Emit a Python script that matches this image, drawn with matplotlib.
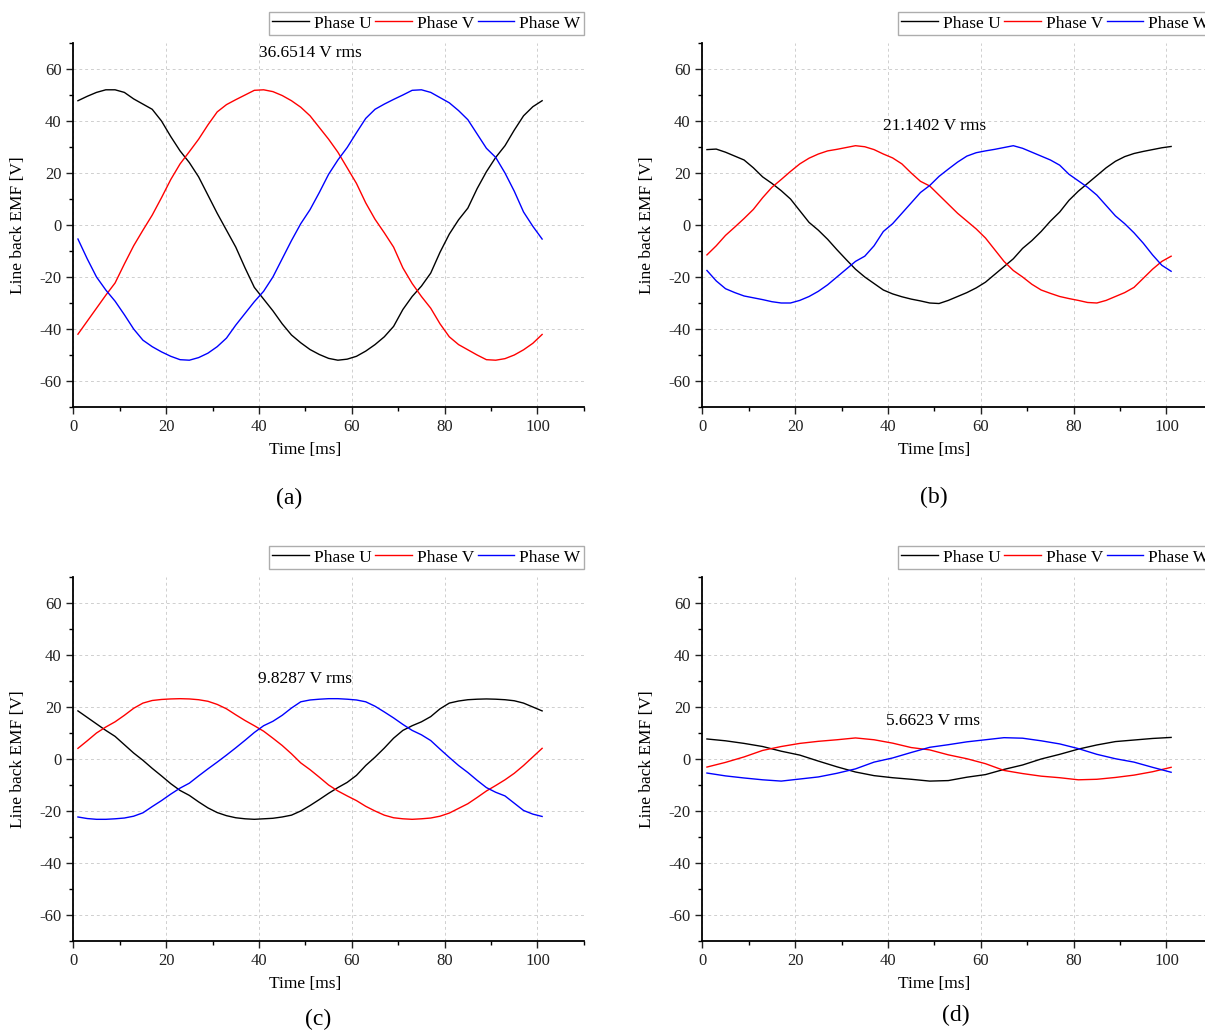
import matplotlib
matplotlib.use('Agg')
import matplotlib.pyplot as plt
from matplotlib.ticker import MultipleLocator

plt.rcParams['font.family'] = ['Liberation Serif', 'DejaVu Serif']
plt.rcParams['axes.unicode_minus'] = False

# time samples [ms]: 2 ms steps for (a)-(c), 4 ms steps for (d)
time_fine = list(range(1, 102, 2))
time_coarse = list(range(1, 102, 4))

# (a) 36.6514 V rms
a_u = [47.8, 49.5, 51.0, 52.0, 52.0, 51.0, 48.5, 46.5, 44.5, 40.0, 34.0, 28.5, 24.0,
       18.5, 11.5, 4.5, -2.0, -8.5, -16.5, -24.0, -28.5, -33.0, -38.0, -42.3, -45.3, -47.9,
       -49.8, -51.3, -52.0, -51.6, -50.5, -48.5, -46.0, -43.0, -39.0, -32.5, -27.5, -23.5,
       -18.5, -10.5, -3.5, 2.0, 6.5, 14.0, 20.5, 26.0, 30.5, 36.5, 42.0, 45.5, 47.8]
a_v = [-42.0, -37.0, -32.0, -27.0, -22.3, -15.0, -8.0, -2.0, 3.8, 10.5, 17.5, 23.5, 28.2,
       33.0, 38.5, 43.5, 46.3, 48.2, 50.0, 51.8, 52.0, 51.3, 49.8, 47.8, 45.3, 42.0,
       37.5, 33.0, 28.0, 22.0, 16.0, 8.5, 2.2, -3.0, -8.5, -16.5, -22.5, -27.5,
       -32.0, -38.0, -43.0, -46.0, -48.0, -50.0, -51.8, -52.0, -51.4, -50.0, -48.0, -45.5, -42.1]
a_w = [-5.4, -13.0, -20.0, -25.0, -29.3, -34.5, -40.0, -44.3, -46.8, -48.8, -50.5, -51.8, -52.0,
       -51.0, -49.3, -46.8, -43.5, -38.5, -34.0, -29.5, -25.5, -20.0, -13.0, -6.0, 0.5, 5.9,
       12.5, 19.5, 25.0, 29.8, 35.5, 41.0, 44.5, 46.5, 48.3, 50.0, 51.8, 52.0,
       51.0, 49.0, 47.0, 44.0, 40.5, 35.0, 29.5, 26.0, 20.0, 13.0, 5.0, -0.5, -5.4]

# (b) 21.1402 V rms
b_u = [29.0, 29.2, 28.0, 26.5, 25.0, 22.0, 18.5, 16.0, 13.2, 10.0, 5.5, 1.0, -2.0,
       -5.5, -9.5, -13.3, -17.0, -20.0, -22.5, -25.0, -26.5, -27.6, -28.5, -29.2, -30.0, -30.2,
       -29.0, -27.5, -26.0, -24.2, -22.0, -19.0, -16.0, -13.0, -9.0, -6.0, -2.5, 1.5,
       5.0, 9.5, 13.0, 16.0, 19.0, 22.0, 24.5, 26.3, 27.5, 28.3, 29.0, 29.7, 30.2]
b_v = [-11.5, -8.0, -4.0, -0.8, 2.5, 6.0, 10.5, 14.5, 17.5, 20.6, 23.5, 25.7, 27.3,
       28.5, 29.1, 29.8, 30.5, 30.1, 29.0, 27.3, 25.8, 23.5, 20.0, 16.8, 15.0, 11.5,
       8.0, 4.5, 1.5, -1.5, -5.0, -9.5, -14.0, -17.5, -20.0, -22.8, -25.0, -26.3,
       -27.5, -28.3, -29.0, -29.8, -30.0, -29.0, -27.5, -26.0, -24.0, -20.5, -17.0, -14.0, -12.0]
b_w = [-17.5, -21.5, -24.5, -26.0, -27.3, -28.0, -28.7, -29.5, -30.0, -30.0, -29.0, -27.5, -25.5,
       -23.0, -20.0, -17.0, -14.0, -12.0, -8.0, -2.5, 0.5, 4.5, 8.5, 12.5, 15.2, 18.7,
       21.5, 24.2, 26.5, 27.8, 28.5, 29.1, 29.8, 30.5, 29.5, 28.0, 26.5, 25.0,
       23.0, 19.5, 17.0, 14.5, 11.5, 7.5, 3.5, 0.5, -3.0, -7.0, -11.5, -15.5, -17.8]

# (c) 9.8287 V rms
c_u = [18.5, 16.0, 13.5, 11.0, 8.7, 5.5, 2.3, -0.5, -3.6, -6.5, -9.5, -12.1, -14.0,
       -16.5, -18.8, -20.6, -21.8, -22.6, -23.0, -23.2, -23.0, -22.8, -22.3, -21.6, -20.0, -17.9,
       -15.6, -13.2, -11.0, -9.0, -6.3, -2.5, 0.7, 4.2, 8.0, 11.0, 12.8, 14.3,
       16.3, 19.3, 21.5, 22.3, 22.8, 23.0, 23.1, 23.0, 22.8, 22.4, 21.5, 20.0, 18.5]
c_v = [4.1, 7.0, 10.0, 12.3, 14.3, 16.8, 19.5, 21.5, 22.5, 22.9, 23.1, 23.2, 23.1,
       22.8, 22.2, 21.0, 19.3, 17.0, 14.8, 12.8, 10.7, 8.0, 5.2, 2.0, -1.5, -4.1,
       -7.0, -10.0, -12.3, -14.2, -16.0, -18.2, -20.0, -21.6, -22.6, -23.0, -23.2, -23.0,
       -22.7, -22.0, -20.8, -19.0, -17.2, -14.8, -12.3, -10.2, -8.0, -5.5, -2.5, 0.8, 4.1]
c_w = [-22.3, -22.9, -23.2, -23.2, -23.0, -22.7, -22.0, -20.7, -18.3, -16.0, -13.5, -11.2, -9.3,
       -6.5, -3.8, -1.2, 1.5, 4.3, 7.2, 10.2, 12.8, 14.5, 16.8, 19.6, 22.0, 22.7,
       23.0, 23.2, 23.2, 23.0, 22.7, 22.0, 20.3, 18.1, 15.8, 13.3, 11.0, 9.3,
       7.1, 3.8, 0.6, -2.5, -5.2, -8.2, -11.0, -12.8, -14.2, -17.0, -19.8, -21.2, -22.1]

# (d) 5.6623 V rms
d_u = [7.7, 7.0, 6.0, 4.8, 3.0, 1.5, -0.8, -3.0, -5.0, -6.4, -7.2, -7.8, -8.5,
       -8.3, -7.0, -6.0, -4.0, -2.3, 0.0, 1.8, 3.8, 5.4, 6.7, 7.3, 7.9, 8.3]
d_v = [-3.1, -1.3, 0.8, 3.3, 4.8, 6.0, 6.8, 7.4, 8.1, 7.4, 6.1, 4.4, 3.5,
       1.6, 0.1, -1.8, -4.4, -5.6, -6.6, -7.2, -8.0, -7.8, -7.1, -6.2, -4.9, -3.2]
d_w = [-5.4, -6.5, -7.3, -8.0, -8.5, -7.7, -6.9, -5.5, -3.8, -1.2, 0.4, 2.5, 4.5,
       5.5, 6.6, 7.4, 8.2, 8.0, 7.0, 5.8, 4.0, 1.8, 0.1, -1.2, -3.2, -5.1]

rms_labels = ['36.6514 V rms', '21.1402 V rms', '9.8287 V rms', '5.6623 V rms']
rms_pos = [(51, 66), (50, 38), (50, 30.7), (49.6, 14.6)]
panel_tags = ['(a)', '(b)', '(c)', '(d)']
tag_pos = [(0.240, 0.517), (0.775, 0.518), (0.264, 0.012), (0.793, 0.016)]

panels = [(time_fine, a_u, a_v, a_w), (time_fine, b_u, b_v, b_w),
          (time_fine, c_u, c_v, c_w), (time_coarse, d_u, d_v, d_w)]

fig = plt.figure(figsize=(12.05, 10.32), dpi=100)
W, H = 1205.0, 1032.0
ax_w, ax_h = 510.6 / W, 364.0 / H
boxes = [(73.3 / W, 1 - 407 / H), (702.3 / W, 1 - 407 / H),
         (73.3 / W, 1 - 941 / H), (702.3 / W, 1 - 941 / H)]

for i, (t, u, v, w) in enumerate(panels):
  ax = fig.add_axes([boxes[i][0], boxes[i][1], ax_w, ax_h])
  ax.plot(t, u, color='black', lw=1.0, label='Phase U')
  ax.plot(t, v, color='#ff0000', lw=1.0, label='Phase V')
  ax.plot(t, w, color='#0000ff', lw=1.0, label='Phase W')

  ax.set_xlim(0, 110)
  ax.set_ylim(-70, 70)
  ax.set_xticks([0, 20, 40, 60, 80, 100])
  ax.set_yticks([-60, -40, -20, 0, 20, 40, 60])
  ax.xaxis.set_minor_locator(MultipleLocator(10))
  ax.yaxis.set_minor_locator(MultipleLocator(10))
  ax.tick_params(which='major', direction='out', length=5, width=1, labelsize=12, colors='#222222')
  ax.tick_params(which='minor', direction='out', length=3, width=1)
  ax.grid(True, which='major', ls=(0, (3, 3)), color='#cfcfcf', lw=0.7)
  ax.set_axisbelow(True)
  for side in ['top', 'right']:
    ax.spines[side].set_visible(False)
  for side in ['left', 'bottom']:
    ax.spines[side].set_linewidth(1.3)

  ax.set_xlabel('Time [ms]', fontsize=12.5)
  ax.set_ylabel('Line back EMF [V]', fontsize=12.5)
  ax.xaxis.set_label_coords(50 / 110, -0.096)
  ax.yaxis.set_label_coords(-0.092, 0.5)

  ax.text(rms_pos[i][0], rms_pos[i][1], rms_labels[i], fontsize=12.5,
          ha='center', va='center')

  leg = ax.legend(loc='lower right', bbox_to_anchor=(1.0, 1.022), ncol=3,
                  fontsize=12.5, frameon=True, fancybox=False, borderaxespad=0,
                  handlelength=2.1, handletextpad=0.3, columnspacing=0.2,
                  borderpad=0.2)
  leg.get_frame().set_edgecolor('#999999')
  leg.get_frame().set_linewidth(1.0)

  fig.text(tag_pos[i][0], tag_pos[i][1], panel_tags[i], fontsize=17,
           ha='center', va='center')

fig.savefig('out.png', dpi=100)
